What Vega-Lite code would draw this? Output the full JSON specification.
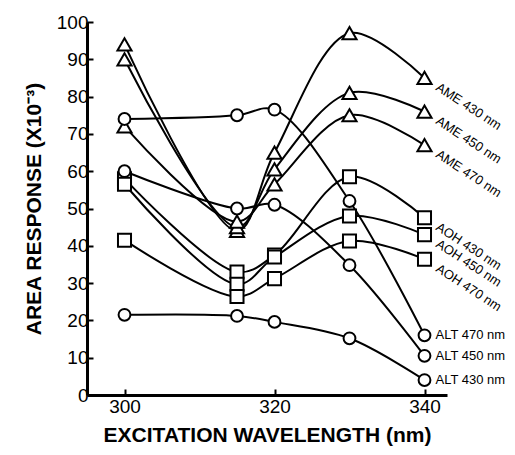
{
  "$schema": "https://vega.github.io/schema/vega-lite/v6.json",
  "autosize": {"type": "none"},
  "padding": {"left": 87, "top": 22, "right": 68, "bottom": 60},
  "width": 360,
  "height": 373,
  "background": "white",
  "config": {"view": {"stroke": null}, "font": "Liberation Sans"},
  "data": {"values": [
    {"series": "AME 430 nm", "compound": "AME", "x": 300, "y": 94},
    {"series": "AME 430 nm", "compound": "AME", "x": 315, "y": 44},
    {"series": "AME 430 nm", "compound": "AME", "x": 320, "y": 65},
    {"series": "AME 430 nm", "compound": "AME", "x": 330, "y": 97},
    {"series": "AME 430 nm", "compound": "AME", "x": 340, "y": 85},
    {"series": "AME 450 nm", "compound": "AME", "x": 300, "y": 90},
    {"series": "AME 450 nm", "compound": "AME", "x": 315, "y": 45},
    {"series": "AME 450 nm", "compound": "AME", "x": 320, "y": 60.5},
    {"series": "AME 450 nm", "compound": "AME", "x": 330, "y": 81},
    {"series": "AME 450 nm", "compound": "AME", "x": 340, "y": 76},
    {"series": "AME 470 nm", "compound": "AME", "x": 300, "y": 72},
    {"series": "AME 470 nm", "compound": "AME", "x": 315, "y": 46.5},
    {"series": "AME 470 nm", "compound": "AME", "x": 320, "y": 56.5},
    {"series": "AME 470 nm", "compound": "AME", "x": 330, "y": 75},
    {"series": "AME 470 nm", "compound": "AME", "x": 340, "y": 67},
    {"series": "AOH 430 nm", "compound": "AOH", "x": 300, "y": 58},
    {"series": "AOH 430 nm", "compound": "AOH", "x": 315, "y": 33},
    {"series": "AOH 430 nm", "compound": "AOH", "x": 320, "y": 37.5},
    {"series": "AOH 430 nm", "compound": "AOH", "x": 330, "y": 58.5},
    {"series": "AOH 430 nm", "compound": "AOH", "x": 340, "y": 47.5},
    {"series": "AOH 450 nm", "compound": "AOH", "x": 300, "y": 56.5},
    {"series": "AOH 450 nm", "compound": "AOH", "x": 315, "y": 29.7},
    {"series": "AOH 450 nm", "compound": "AOH", "x": 320, "y": 37},
    {"series": "AOH 450 nm", "compound": "AOH", "x": 330, "y": 48},
    {"series": "AOH 450 nm", "compound": "AOH", "x": 340, "y": 43},
    {"series": "AOH 470 nm", "compound": "AOH", "x": 300, "y": 41.5},
    {"series": "AOH 470 nm", "compound": "AOH", "x": 315, "y": 26.4},
    {"series": "AOH 470 nm", "compound": "AOH", "x": 320, "y": 31.2},
    {"series": "AOH 470 nm", "compound": "AOH", "x": 330, "y": 41.3},
    {"series": "AOH 470 nm", "compound": "AOH", "x": 340, "y": 36.4},
    {"series": "ALT 430 nm", "compound": "ALT", "x": 300, "y": 21.5},
    {"series": "ALT 430 nm", "compound": "ALT", "x": 315, "y": 21.2},
    {"series": "ALT 430 nm", "compound": "ALT", "x": 320, "y": 19.6},
    {"series": "ALT 430 nm", "compound": "ALT", "x": 330, "y": 15.2},
    {"series": "ALT 430 nm", "compound": "ALT", "x": 340, "y": 4},
    {"series": "ALT 450 nm", "compound": "ALT", "x": 300, "y": 60},
    {"series": "ALT 450 nm", "compound": "ALT", "x": 315, "y": 50},
    {"series": "ALT 450 nm", "compound": "ALT", "x": 320, "y": 51},
    {"series": "ALT 450 nm", "compound": "ALT", "x": 330, "y": 34.8},
    {"series": "ALT 450 nm", "compound": "ALT", "x": 340, "y": 10.5},
    {"series": "ALT 470 nm", "compound": "ALT", "x": 300, "y": 74},
    {"series": "ALT 470 nm", "compound": "ALT", "x": 315, "y": 75},
    {"series": "ALT 470 nm", "compound": "ALT", "x": 320, "y": 76.5},
    {"series": "ALT 470 nm", "compound": "ALT", "x": 330, "y": 52},
    {"series": "ALT 470 nm", "compound": "ALT", "x": 340, "y": 16}
  ]},
  "encoding": {
    "x": {
      "field": "x", "type": "quantitative",
      "scale": {"domain": [295, 343], "nice": false, "zero": false},
      "axis": {
        "title": "EXCITATION WAVELENGTH (nm)",
        "values": [300, 320, 340],
        "grid": false,
        "tickSize": -6, "tickWidth": 2, "tickColor": "black",
        "domainWidth": 3, "domainColor": "black",
        "labelFontSize": 19, "labelColor": "black", "labelPadding": 8,
        "titleFontSize": 21, "titleFontWeight": "bold", "titleColor": "black", "titlePadding": 8
      }
    },
    "y": {
      "field": "y", "type": "quantitative",
      "scale": {"domain": [0, 100], "nice": false},
      "axis": {
        "title": "AREA RESPONSE (X10⁻³)",
        "values": [0, 10, 20, 30, 40, 50, 60, 70, 80, 90, 100],
        "grid": false,
        "tickSize": -6, "tickWidth": 2, "tickColor": "black",
        "domainWidth": 3, "domainColor": "black",
        "labelFontSize": 19, "labelColor": "black", "labelPadding": 5,
        "titleFontSize": 21, "titleFontWeight": "bold", "titleColor": "black", "titlePadding": 12
      }
    }
  },
  "layer": [
    {
      "mark": {"type": "line", "interpolate": "catmull-rom", "color": "black", "strokeWidth": 2},
      "encoding": {"detail": {"field": "series"}}
    },
    {
      "mark": {"type": "point", "filled": true, "fill": "white", "stroke": "black", "strokeWidth": 2, "opacity": 1, "fillOpacity": 1},
      "encoding": {
        "shape": {"field": "compound", "type": "nominal", "scale": {"domain": ["AME", "AOH", "ALT"], "range": ["triangle-up", "square", "circle"]}, "legend": null},
        "size": {"field": "compound", "type": "ordinal", "scale": {"domain": ["AME", "AOH", "ALT"], "range": [200, 140, 140]}, "legend": null}
      }
    },
    {
      "transform": [{"filter": "datum.x == 340 && datum.compound != 'ALT'"}],
      "mark": {"type": "text", "align": "left", "baseline": "middle", "angle": 33, "dx": 15, "dy": 0, "fontSize": 13, "color": "black"},
      "encoding": {"text": {"field": "series"}}
    },
    {
      "transform": [{"filter": "datum.x == 340 && datum.compound == 'ALT'"}],
      "mark": {"type": "text", "align": "left", "baseline": "middle", "dx": 11, "dy": 0, "fontSize": 13, "color": "black"},
      "encoding": {"text": {"field": "series"}}
    }
  ]
}
